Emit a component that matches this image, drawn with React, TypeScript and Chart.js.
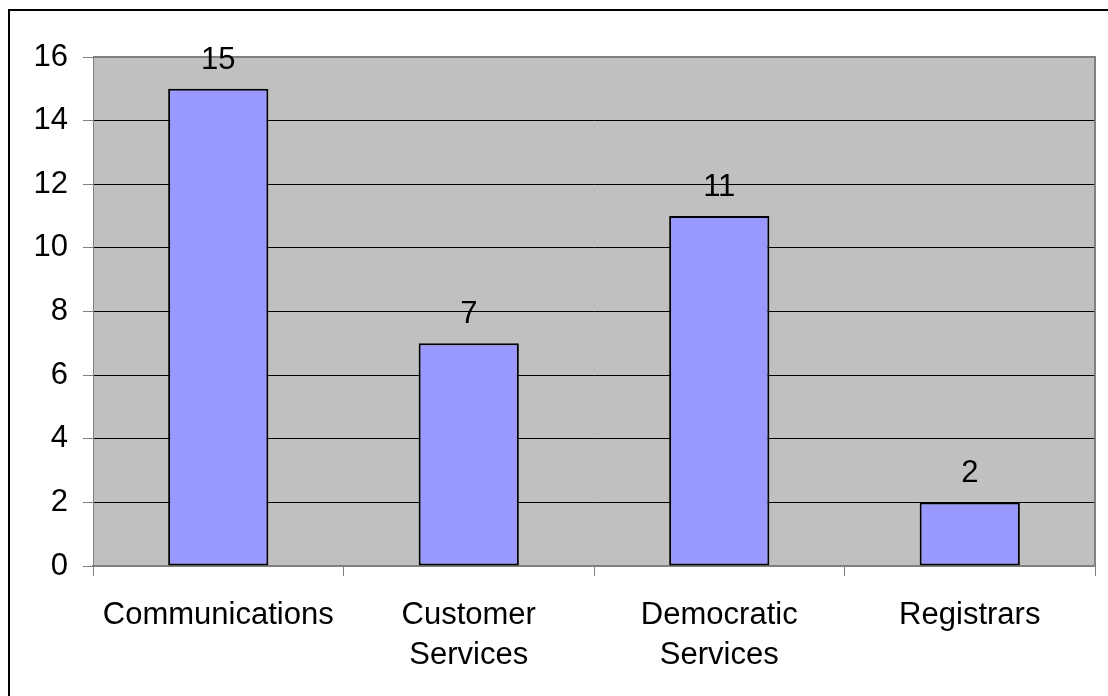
import React, { useEffect, useRef } from "react";
import { Chart, registerables } from "chart.js";

Chart.register(...registerables);

const categories: (string | string[])[] = [
  "Communications",
  ["Customer", "Services"],
  ["Democratic", "Services"],
  "Registrars",
];
const values: number[] = [15, 7, 11, 2];
const yTicks: number[] = [0, 2, 4, 6, 8, 10, 12, 14, 16];

const FONT = "'Liberation Sans', Arial, sans-serif";
const FS = 31;

const framePlugin = {
  id: "frame",
  beforeDraw(chart: any) {
    const { ctx, chartArea: a } = chart;
    ctx.save();
    ctx.fillStyle = "#ffffff";
    ctx.fillRect(0, 0, chart.width, chart.height);
    ctx.fillStyle = "#c0c0c0";
    ctx.fillRect(a.left, a.top, a.right - a.left, a.bottom - a.top);
    ctx.strokeStyle = "#000000";
    ctx.lineWidth = 2;
    ctx.strokeRect(9, 10, chart.width + 20, chart.height + 20);
    ctx.restore();
  },
  beforeDatasetsDraw(chart: any) {
    const { ctx, chartArea: a } = chart;
    ctx.save();
    ctx.strokeStyle = "#808080";
    ctx.lineWidth = 2;
    ctx.beginPath();
    ctx.moveTo(a.left, a.top);
    ctx.lineTo(a.right, a.top);
    ctx.lineTo(a.right, a.bottom);
    ctx.stroke();
    ctx.restore();
  },
  afterDatasetsDraw(chart: any) {
    const { ctx } = chart;
    const meta = chart.getDatasetMeta(0);
    ctx.save();
    ctx.fillStyle = "#000000";
    ctx.font = `${FS}px ${FONT}`;
    ctx.textAlign = "center";
    ctx.textBaseline = "alphabetic";
    meta.data.forEach((bar: any, i: number) => {
      ctx.fillText(String(values[i]), bar.x, bar.y - 20);
    });
    ctx.restore();
  },
};

export default function App() {
  const ref = useRef<HTMLCanvasElement>(null);
  useEffect(() => {
    if (!ref.current) return;
    const chart = new Chart(ref.current, {
      type: "bar",
      data: {
        labels: categories,
        datasets: [
          {
            data: values,
            backgroundColor: "#9999ff",
            borderColor: "#000000",
            borderWidth: 2,
            borderSkipped: false,
            barPercentage: 0.4,
            categoryPercentage: 1,
          },
        ],
      },
      options: {
        animation: false,
        responsive: false,
        devicePixelRatio: 1,
        layout: { padding: { left: 0, top: 57, right: 13, bottom: 0 } },
        plugins: { legend: { display: false }, tooltip: { enabled: false } },
        scales: {
          x: {
            offset: true,
            grid: {
              offset: true,
              drawOnChartArea: false,
              tickColor: "#808080",
              tickLength: 10,
              lineWidth: 1,
            },
            border: { color: "#808080", width: 2 },
            ticks: {
              color: "#000000",
              font: { family: FONT, size: FS, lineHeight: 1.3 },
              padding: 19,
              maxRotation: 0,
              autoSkip: false,
            },
            afterFit(scale: any) {
              scale.height = 130;
            },
          },
          y: {
            min: 0,
            max: 16,
            afterBuildTicks(scale: any) {
              scale.ticks = yTicks.map((v) => ({ value: v }));
            },
            grid: {
              color: "#000000",
              tickColor: "#808080",
              tickLength: 10,
              lineWidth: 1,
            },
            border: { color: "#808080", width: 1 },
            ticks: {
              color: "#000000",
              font: { family: FONT, size: FS },
              padding: 15,
            },
            afterFit(scale: any) {
              scale.width = 93;
            },
          },
        },
      },
      plugins: [framePlugin],
    });
    return () => chart.destroy();
  }, []);
  return (
    <div style={{ position: "absolute", left: 0, top: 0, width: 1108, height: 696 }}>
      <canvas ref={ref} width={1108} height={696} style={{ display: "block" }} />
    </div>
  );
}
